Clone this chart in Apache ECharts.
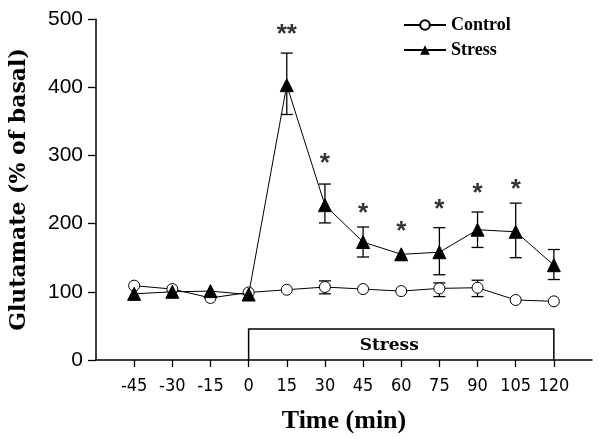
<!DOCTYPE html>
<html><head><meta charset="utf-8">
<script src="https://cdn.jsdelivr.net/npm/echarts@6/dist/echarts.min.js"></script>
<style>html,body{margin:0;padding:0;background:#fff}#c{width:600px;height:439px}</style>
</head><body><div id="c"></div>
<script>
const times = [-45,-30,-15,0,15,30,45,60,75,90,105,120];
const tickLabels = [-45,-30,-15,0,15,30,45,60,75,90,105,120];
const control = [109,104,91,99,103,107,104,101,105,106,88,86];
const stress = [97,100,101,96,403,227,173,155,158,191,188,139];
const controlErr = [[30,97,116],[75,93,113],[90,93,117]];
const stressErr = [[15,360,450],[30,201,258],[45,151,195],[75,125,194],[90,165,217],[105,150,230],[120,118,162]];
const stars = [[15,485,'**'],[30,296,'*'],[45,223,'*'],[60,196,'*'],[75,229,'*'],[90,252,'*'],[105,259,'*']];
const stressPeriod = [0,120,45.5];

const chart = echarts.init(document.getElementById('c'));
function errRender(params, api){
  const x = api.value(0);
  const lo = api.coord([x, api.value(1)]);
  const hi = api.coord([x, api.value(2)]);
  const w = 6;
  const st = {stroke:'#000', lineWidth:1.3};
  return {type:'group', children:[
    {type:'line', shape:{x1:lo[0],y1:lo[1],x2:hi[0],y2:hi[1]}, style:st},
    {type:'line', shape:{x1:lo[0]-w,y1:lo[1],x2:lo[0]+w,y2:lo[1]}, style:st},
    {type:'line', shape:{x1:hi[0]-w,y1:hi[1],x2:hi[0]+w,y2:hi[1]}, style:st}
  ]};
}
chart.setOption({
  animation:false,
  backgroundColor:'#fff',
  grid:{left:96, right:8, top:19, bottom:79, outerBoundsMode:'none', containLabel:false},
  legend:{
    orient:'vertical', left:398, top:11, itemWidth:42, itemHeight:12, itemGap:7,
    data:['Control','Stress'],
    textStyle:{fontFamily:'Liberation Serif', fontWeight:'bold', fontSize:18, color:'#000'}
  },
  xAxis:{
    type:'value', min:-60, max:135, interval:15,
    name:'Time (min)', nameLocation:'middle', nameGap:48, nameMoveOverlap:false,
    nameTextStyle:{fontFamily:'Liberation Serif', fontWeight:'bold', fontSize:26, color:'#000'},
    axisLine:{onZero:false, lineStyle:{color:'#000', width:1.5}},
    axisTick:{customValues:tickLabels, length:7, lineStyle:{color:'#000', width:1.3}},
    axisLabel:{customValues:tickLabels, margin:17, fontFamily:'Liberation Sans Narrow, DejaVu Sans Condensed, sans-serif', fontSize:18, color:'#000'},
    splitLine:{show:false}
  },
  yAxis:{
    type:'value', min:0, max:500, interval:100,
    name:'Glutamate (% of basal)', nameLocation:'middle', nameGap:66, nameRotate:90, nameMoveOverlap:false,
    nameTextStyle:{fontFamily:'DejaVu Serif', fontWeight:'bold', fontSize:22, color:'#000'},
    axisLine:{show:true, onZero:false, lineStyle:{color:'#000', width:1.5}},
    axisTick:{show:true, length:8, lineStyle:{color:'#000', width:1.3}},
    axisLabel:{margin:13, fontFamily:'Liberation Sans, sans-serif', fontSize:21, color:'#000'},
    splitLine:{show:false}
  },
  series:[
    {type:'custom', name:'period', silent:true, z:1,
     data:[stressPeriod],
     renderItem:function(params, api){
       const a = api.coord([api.value(0), 0]);
       const b = api.coord([api.value(1), api.value(2)]);
       return {type:'group', children:[
         {type:'polyline', shape:{points:[[a[0],a[1]],[a[0],b[1]],[b[0],b[1]],[b[0],a[1]]]}, style:{stroke:'#000', lineWidth:1.5, fill:null}},
         {type:'text', style:{text:'Stress', x:(a[0]+b[0])/2-12, y:(a[1]+b[1])/2+1, align:'center', verticalAlign:'middle', font:'bold 17px "DejaVu Serif"', fill:'#000'}}
       ]};
     }},
    {type:'custom', name:'cerr', silent:true, z:2, data:controlErr, renderItem:errRender},
    {type:'custom', name:'serr', silent:true, z:2, data:stressErr, renderItem:errRender},
    {type:'line', name:'Control', z:3, data:times.map((t,i)=>[t,control[i]]),
     symbol:'circle', symbolSize:11, showAllSymbol:true,
     lineStyle:{color:'#000', width:1},
     itemStyle:{color:'#fff', borderColor:'#000', borderWidth:1}},
    {type:'line', name:'Stress', z:4, data:times.map((t,i)=>[t,stress[i]]),
     symbol:'triangle', symbolSize:13, showAllSymbol:true,
     lineStyle:{color:'#000', width:1},
     itemStyle:{color:'#000', borderColor:'#000'}},
    {type:'scatter', name:'stars', silent:true, symbolSize:0, z:5,
     data:stars.map(s=>({value:[s[0],s[1]], label:{formatter:s[2]}})),
     label:{show:true, position:'inside', offset:[0,6], fontFamily:'Liberation Sans', fontWeight:'bold', fontSize:26, color:'#000'}}
  ]
});
</script></body></html>
